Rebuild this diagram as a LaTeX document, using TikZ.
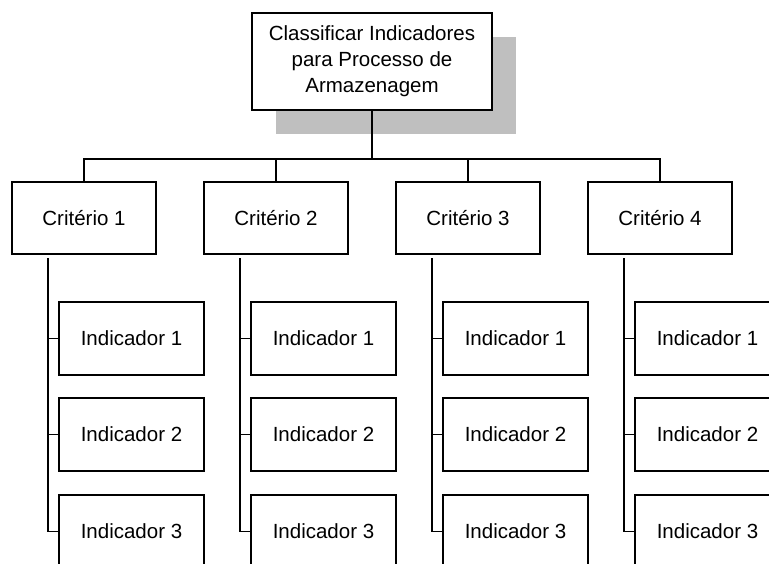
\documentclass[tikz,border=0pt]{standalone}
\usepackage{fontspec}
\setmainfont{Liberation Sans}
\begin{document}
\begin{tikzpicture}[x=1pt,y=-1pt,
  boxed/.style={draw=black,line width=1.8pt,fill=white,inner sep=0pt,align=center,
    font=\fontsize{20.5}{26}\selectfont},
  topbox/.style={boxed,minimum width=240pt,minimum height=97pt},
  critbox/.style={boxed,minimum width=144pt,minimum height=72pt},
  indbox/.style={boxed,minimum width=145pt,minimum height=73pt},
  conn/.style={draw=black,line width=1.1pt},
  shade/.style={fill=black!25,draw=none}]
\useasboundingbox (0,0) rectangle (769,563);
% shadow
\fill[shade] (276,37) rectangle (516,134);
\node[topbox] (top) at (372,61.5) {Classificar Indicadores\\para Processo de\\Armazenagem};
\coordinate (bar) at (372,159);
\foreach \k in {1,2,3,4}{
  \pgfmathsetmacro{\cx}{84+192*(\k-1)}
  \pgfmathsetmacro{\ix}{131.5+192*(\k-1)}
  \pgfmathsetmacro{\vx}{48+192*(\k-1)}
  \node[critbox] (c\k) at (\cx,218) {Critério \k};
  \node[indbox] (i\k1) at (\ix,338.5) {Indicador 1};
  \node[indbox] (i\k2) at (\ix,434.5) {Indicador 2};
  \node[indbox] (i\k3) at (\ix,531.5) {Indicador 3};
  \coordinate (v\k) at (\vx,258);
  \draw[conn] (bar) -| (c\k.north);
  \draw[conn] (v\k) |- (i\k3.west);
  \draw[conn] (v\k |- i\k1.west) -- (i\k1.west);
  \draw[conn] (v\k |- i\k2.west) -- (i\k2.west);
}
\draw[conn] (top.south) -- (bar);
\end{tikzpicture}
\end{document}
